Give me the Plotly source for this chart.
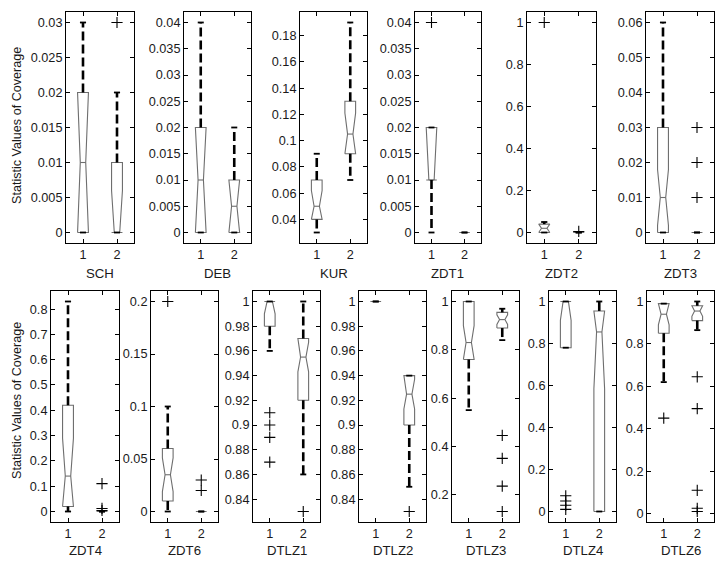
import plotly.graph_objects as go

# ---------------- data ----------------
problems = ["SCH", "DEB", "KUR", "ZDT1", "ZDT2", "ZDT3", "ZDT4",
            "ZDT6", "DTLZ1", "DTLZ2", "DTLZ3", "DTLZ4", "DTLZ6"]
groups = [1, 2]

# box statistics of group 1
g1_q1 = [0.0, 0.0, 0.04, 0.01, 0.0, 0.0, 0.02, 0.01, 0.98, 1.0, 0.76, 0.78, 0.85]
g1_med = [0.01, 0.01, 0.05, 0.01, 0.02, 0.01, 0.14, 0.035, 1.0, 1.0, 0.83, 1.0, 0.94]
g1_q3 = [0.02, 0.02, 0.07, 0.02, 0.04, 0.03, 0.42, 0.06, 1.0, 1.0, 1.0, 1.0, 0.99]
g1_lo = [0.0, 0.0, 0.03, 0.0, 0.0, 0.0, 0.0, 0.0, 0.96, 1.0, 0.55, 0.78, 0.62]
g1_hi = [0.03, 0.04, 0.09, 0.02, 0.05, 0.06, 0.83, 0.10, 1.0, 1.0, 1.0, 1.0, 0.99]
g1_notch = [0.01, 0.01, 0.012, 0.01, 0.02, 0.008, 0.15, 0.016, 0.01, 0.0, 0.07, 0.09, 0.05]
g1_out = [[], [], [], [0.04], [1.0], [], [], [0.2],
          [0.91, 0.90, 0.89, 0.87], [], [], [0.075, 0.05, 0.03, 0.01], [0.45]]

# box statistics of group 2
g2_q1 = [0.0, 0.0, 0.09, 0.0, 0.0, 0.0, 0.0, 0.0, 0.92, 0.90, 0.89, 0.0, 0.91]
g2_med = [0.0, 0.005, 0.105, 0.0, 0.0, 0.0, 0.0, 0.0, 0.955, 0.925, 0.925, 0.855, 0.955]
g2_q3 = [0.01, 0.01, 0.13, 0.0, 0.0, 0.0, 0.0, 0.0, 0.97, 0.94, 0.955, 0.955, 0.98]
g2_lo = [0.0, 0.0, 0.07, 0.0, 0.0, 0.0, 0.0, 0.0, 0.86, 0.85, 0.84, 0.0, 0.865]
g2_hi = [0.02, 0.02, 0.19, 0.0, 0.0, 0.0, 0.0, 0.0, 1.0, 0.94, 0.97, 1.0, 1.0]
g2_notch = [0.006, 0.005, 0.016, 0.0, 0.0, 0.0, 0.0, 0.0, 0.012, 0.012, 0.02, 0.27, 0.025]
g2_out = [[0.03], [], [], [], [0.005], [0.01, 0.02, 0.03], [0.11, 0.012, 0.004],
          [0.03, 0.02], [0.83], [0.83], [0.445, 0.35, 0.235, 0.13], [],
          [0.645, 0.495, 0.11, 0.025, 0.01]]

# y tick values for each panel
yticks = [
    [0, 0.005, 0.01, 0.015, 0.02, 0.025, 0.03],
    [0, 0.005, 0.01, 0.015, 0.02, 0.025, 0.03, 0.035, 0.04],
    [0.04, 0.06, 0.08, 0.1, 0.12, 0.14, 0.16, 0.18],
    [0, 0.005, 0.01, 0.015, 0.02, 0.025, 0.03, 0.035, 0.04],
    [0, 0.2, 0.4, 0.6, 0.8, 1],
    [0, 0.01, 0.02, 0.03, 0.04, 0.05, 0.06],
    [0, 0.1, 0.2, 0.3, 0.4, 0.5, 0.6, 0.7, 0.8],
    [0, 0.05, 0.1, 0.15, 0.2],
    [0.84, 0.86, 0.88, 0.9, 0.92, 0.94, 0.96, 0.98, 1],
    [0.84, 0.86, 0.88, 0.9, 0.92, 0.94, 0.96, 0.98, 1],
    [0.2, 0.4, 0.6, 0.8, 1],
    [0, 0.2, 0.4, 0.6, 0.8, 1],
    [0, 0.2, 0.4, 0.6, 0.8, 1],
]
ytitle = "Statistic Values of Coverage"

# ---------------- layout geometry (pixels) ----------------
W, H = 722, 569
TOP_ROW = (12, 243)
BOT_ROW = (291, 522)
panel_x = [(66, 134), (184, 251), (300, 367), (415, 481), (527, 596), (646, 714),
           (51, 119), (151, 218), (253, 320), (359, 426), (452, 519), (549, 616), (647, 714)]
panel_row = [0] * 6 + [1] * 7

FONT = "Liberation Sans, Arial, Helvetica, sans-serif"
TXT = "#1a1a1a"
BOXC = "#6e6e6e"
BOX_HW = 0.16      # half box width (data units)
NOTCH_HW = 0.08    # half width at the median
CAP_HW = 0.09

fig = go.Figure()
layout = dict(
    width=W, height=H, autosize=False,
    margin=dict(l=0, r=0, t=0, b=0),
    paper_bgcolor="white", plot_bgcolor="white",
    showlegend=False,
    font=dict(family=FONT, color=TXT, size=12),
)
annotations = []

stats = [
    (g1_q1, g1_med, g1_q3, g1_lo, g1_hi, g1_notch, g1_out),
    (g2_q1, g2_med, g2_q3, g2_lo, g2_hi, g2_notch, g2_out),
]

for i, name in enumerate(problems):
    k = "" if i == 0 else str(i + 1)
    xa, ya = "x" + k, "y" + k
    x0, x1 = panel_x[i]
    top, bot = TOP_ROW if panel_row[i] == 0 else BOT_ROW

    allv = []
    bx, by = [], []
    wx, wy, cx, cy, ox, oy = [], [], [], [], [], []
    for g, (q1, med, q3, lo, hi, nt, out) in zip(groups, stats):
        a, m, b = q1[i], med[i], q3[i]
        ln = max(m - nt[i], a)
        un = min(m + nt[i], b)
        L, R = g - BOX_HW, g + BOX_HW
        Lm, Rm = g - NOTCH_HW, g + NOTCH_HW
        bx += [L, L, Lm, L, L, R, R, Rm, R, R, L, None, Lm, Rm, None]
        by += [a, ln, m, un, b, b, un, m, ln, a, a, None, m, m, None]
        if lo[i] < a:
            wx += [g, g, None]; wy += [a, lo[i], None]
        if hi[i] > b:
            wx += [g, g, None]; wy += [b, hi[i], None]
        cx += [g - CAP_HW, g + CAP_HW, None, g - CAP_HW, g + CAP_HW, None]
        cy += [lo[i], lo[i], None, hi[i], hi[i], None]
        ox += [g] * len(out[i]); oy += list(out[i])
        allv += [lo[i], hi[i], a, b] + list(out[i])

    fig.add_trace(go.Scatter(x=bx, y=by, mode="lines", xaxis=xa, yaxis=ya,
                             line=dict(color=BOXC, width=1.1),
                             hoverinfo="skip", showlegend=False))
    if wx:
        fig.add_trace(go.Scatter(x=wx, y=wy, mode="lines", xaxis=xa, yaxis=ya,
                                 line=dict(color="black", width=2.6, dash="9px,4px"),
                                 hoverinfo="skip", showlegend=False))
    fig.add_trace(go.Scatter(x=cx, y=cy, mode="lines", xaxis=xa, yaxis=ya,
                             line=dict(color="black", width=1.8),
                             hoverinfo="skip", showlegend=False))
    if ox:
        fig.add_trace(go.Scatter(x=ox, y=oy, mode="markers", xaxis=xa, yaxis=ya,
                                 marker=dict(symbol="cross-thin", size=8,
                                             line=dict(color="black", width=1.1)),
                                 hoverinfo="skip", showlegend=False))

    vmin, vmax = min(allv), max(allv)
    pad = 0.05 * (vmax - vmin)
    common = dict(showline=True, linecolor="black", linewidth=1, mirror="ticks",
                  ticks="inside", ticklen=4, tickwidth=1, tickcolor="black",
                  showgrid=False, zeroline=False, fixedrange=True,
                  tickfont=dict(family=FONT, size=12.7, color=TXT))
    layout["xaxis" + k] = dict(common, domain=[x0 / W, x1 / W], range=[0.5, 2.5],
                               tickvals=groups, ticktext=[str(g) for g in groups],
                               anchor=ya)
    layout["yaxis" + k] = dict(common, domain=[1 - bot / H, 1 - top / H],
                               range=[vmin - pad, vmax + pad],
                               tickvals=yticks[i],
                               ticktext=[f"{v:g}" for v in yticks[i]],
                               anchor=xa)
    name_y = 273 if panel_row[i] == 0 else 550
    annotations.append(dict(text=name, x=(x0 + x1) / 2 / W, y=1 - name_y / H,
                            xref="paper", yref="paper", showarrow=False,
                            xanchor="center", yanchor="middle",
                            font=dict(family=FONT, size=13.2, color=TXT)))

for cy_ in (126, 401):
    annotations.append(dict(text=ytitle, x=17 / W, y=1 - cy_ / H, xref="paper",
                            yref="paper", showarrow=False, textangle=-90,
                            xanchor="center", yanchor="middle",
                            font=dict(family=FONT, size=12.6, color=TXT)))

layout["annotations"] = annotations
fig.update_layout(**layout)
fig.write_html("out.html")
